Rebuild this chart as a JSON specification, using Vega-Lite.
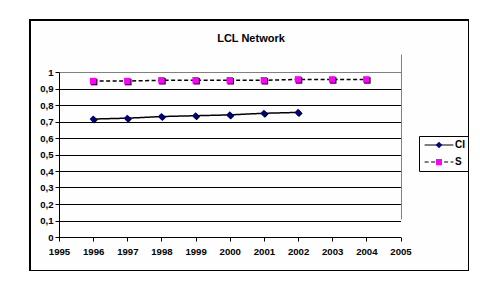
{
  "$schema": "https://vega.github.io/schema/vega-lite/v6.json",
  "width": 439,
  "height": 251,
  "autosize": {"type": "none"},
  "padding": {"left": 30, "top": 20, "right": 0, "bottom": 0},
  "background": "white",
  "config": {
    "font": "Liberation Sans"
  },
  "title": {
    "text": "LCL Network",
    "font": "Liberation Sans",
    "fontSize": 11,
    "fontWeight": "bold",
    "color": "black",
    "anchor": "middle",
    "orient": "top",
    "offset": -33,
    "baseline": "alphabetic",
    "dx": 1.5
  },
  "data": {
    "values": [
      {"year": 1996, "series": "CI", "value": 0.715},
      {"year": 1997, "series": "CI", "value": 0.72},
      {"year": 1998, "series": "CI", "value": 0.73},
      {"year": 1999, "series": "CI", "value": 0.735},
      {"year": 2000, "series": "CI", "value": 0.74},
      {"year": 2001, "series": "CI", "value": 0.75},
      {"year": 2002, "series": "CI", "value": 0.755},
      {"year": 1996, "series": "S", "value": 0.945},
      {"year": 1997, "series": "S", "value": 0.945},
      {"year": 1998, "series": "S", "value": 0.95},
      {"year": 1999, "series": "S", "value": 0.95},
      {"year": 2000, "series": "S", "value": 0.95},
      {"year": 2001, "series": "S", "value": 0.95},
      {"year": 2002, "series": "S", "value": 0.955},
      {"year": 2003, "series": "S", "value": 0.955},
      {"year": 2004, "series": "S", "value": 0.955}
    ]
  },
  "encoding": {
    "x": {
      "field": "year",
      "type": "quantitative",
      "scale": {"domain": [1995, 2005], "range": [29, 370.5], "nice": false, "zero": false},
      "axis": {
        "values": [1995, 1996, 1997, 1998, 1999, 2000, 2001, 2002, 2003, 2004, 2005],
        "format": "d",
        "orient": "bottom",
        "offset": -34,
        "title": null,
        "domainColor": "black",
        "domainWidth": 1,
        "tickColor": "black",
        "tickSize": 4,
        "tickWidth": 1,
        "labelPadding": 5,
        "labelFont": "Liberation Sans",
        "labelFontSize": 9.6,
        "labelFontWeight": "bold",
        "labelColor": "black",
        "labelFlush": false,
        "labelOverlap": false,
        "labelBound": false,
        "grid": true,
        "gridColor": "#808080",
        "gridWidth": 1,
        "gridOpacity": {"condition": {"test": "datum.value === 2005", "value": 1}, "value": 0}
      }
    },
    "y": {
      "field": "value",
      "type": "quantitative",
      "scale": {"domain": [0, 1], "range": [217, 52], "nice": false, "zero": false},
      "axis": {
        "values": [0, 0.1, 0.2, 0.3, 0.4, 0.5, 0.6, 0.7, 0.8, 0.9, 1],
        "format": ".1~f",
        "labelExpr": "replace(datum.label, '.', ',')",
        "orient": "left",
        "offset": -29,
        "title": null,
        "domainColor": "black",
        "domainWidth": 1,
        "tickColor": "black",
        "tickSize": 4,
        "tickWidth": 1,
        "labelPadding": 2,
        "labelFont": "Liberation Sans",
        "labelFontSize": 9.6,
        "labelFontWeight": "bold",
        "labelColor": "black",
        "labelFlush": false,
        "labelOverlap": false,
        "labelBound": false,
        "grid": true,
        "gridWidth": 1,
        "gridColor": {"condition": {"test": "datum.value === 1", "value": "#808080"}, "value": "black"}
      }
    }
  },
  "layer": [
    {
      "mark": {"type": "line", "color": "black", "strokeWidth": 1.5},
      "encoding": {
        "strokeDash": {
          "field": "series",
          "type": "nominal",
          "scale": {"range": [[1, 0], [4, 2.5]]},
          "legend": {
            "orient": "none",
            "legendX": 389,
            "legendY": 116,
            "title": null,
            "symbolType": "M-4.8,0H4.8",
            "symbolSize": 36,
            "symbolStrokeColor": "black",
            "symbolStrokeWidth": 1.2,
            "symbolOffset": 11,
            "labelOffset": 11,
            "labelFont": "Liberation Sans",
            "labelFontSize": 10,
            "labelFontWeight": "bold",
            "labelColor": "black",
            "padding": 4,
            "strokeColor": "black",
            "rowPadding": 7
          }
        }
      }
    },
    {
      "mark": {"type": "point", "filled": true, "fill": "black", "strokeWidth": 0, "size": 42, "opacity": 1, "xOffset": 1, "yOffset": 1},
      "encoding": {
        "shape": {
          "field": "series",
          "type": "nominal",
          "scale": {"domain": ["CI", "S"], "range": ["M0,-1.1L1.1,0L0,1.1L-1.1,0Z", "M-1,-1H1V1H-1Z"]}
        }
      }
    },
    {
      "mark": {"type": "point", "filled": true, "strokeWidth": 0, "size": 42, "opacity": 1},
      "encoding": {
        "shape": {
          "field": "series",
          "type": "nominal",
          "scale": {"domain": ["CI", "S"], "range": ["M0,-1.1L1.1,0L0,1.1L-1.1,0Z", "M-1,-1H1V1H-1Z"]}
        },
        "fill": {
          "field": "series",
          "type": "nominal",
          "scale": {"domain": ["CI", "S"], "range": ["#000080", "#FF00FF"]},
          "legend": {
            "orient": "none",
            "legendX": 389,
            "legendY": 116,
            "title": null,
            "symbolSize": 36,
            "symbolStrokeWidth": 0,
            "symbolOffset": 11,
            "labelOffset": 11,
            "labelFont": "Liberation Sans",
            "labelFontSize": 10,
            "labelFontWeight": "bold",
            "labelOpacity": 0,
            "padding": 4,
            "rowPadding": 7
          }
        }
      }
    }
  ],
  "view": {"stroke": "black", "strokeWidth": 2, "fill": "#fefefe"}
}
